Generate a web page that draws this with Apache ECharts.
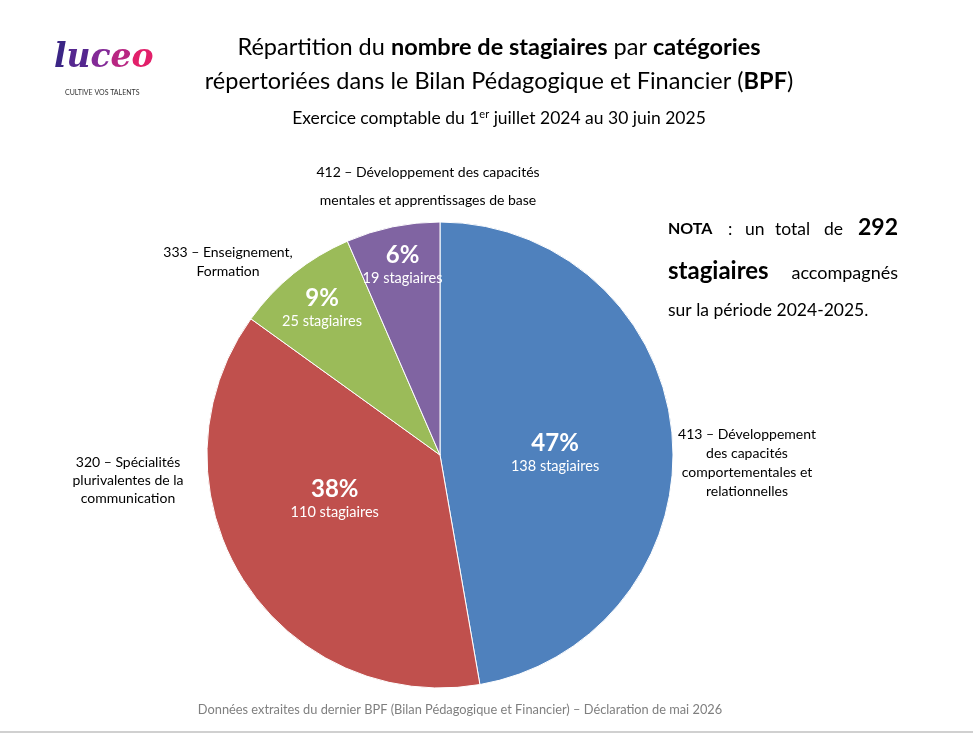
<!DOCTYPE html>
<html>
<head>
<meta charset="utf-8">
<script src="https://cdn.jsdelivr.net/npm/echarts@6/dist/echarts.min.js"></script>
<style>
  html, body { margin: 0; padding: 0; background: #fff; }
  #chart { width: 973px; height: 736px; }
</style>
</head>
<body>
<div id="chart"></div>
<script>
// données BPF
var codes = ['413', '320', '333', '412'];
var libelles = [
  'Développement\ndes capacités\ncomportementales et\nrelationnelles',
  'Spécialités\nplurivalentes de la\ncommunication',
  'Enseignement,\nFormation',
  'Développement des capacités\nmentales et apprentissages de base'
];
var stagiaires = [138, 110, 25, 19];
var couleurs = ['#4F81BD', '#C0504D', '#9BBB59', '#8064A2'];

var FONT = 'Lato';
var total = stagiaires.reduce(function (a, b) { return a + b; }, 0);

// pourcentages arrondis à 100 (plus forts restes), comme Excel
var pcts = (function () {
  var raw = stagiaires.map(function (v) { return v / total * 100; });
  var fl = raw.map(Math.floor);
  var reste = 100 - fl.reduce(function (a, b) { return a + b; }, 0);
  raw.map(function (r, i) { return i; })
    .sort(function (a, b) { return (raw[b] - fl[b]) - (raw[a] - fl[a]); })
    .slice(0, reste).forEach(function (i) { fl[i] += 1; });
  return fl;
})();

var myChart = echarts.init(document.getElementById('chart'));

var lblOffsets = [[-4, 8], [-4, -20], [4, 4], [2, 0]];
var pieData = codes.map(function (c, i) {
  return {
    name: c + ' – ' + libelles[i], value: stagiaires[i],
    itemStyle: { color: couleurs[i] },
    label: { offset: lblOffsets[i] }
  };
});

function labelFmt(p) {
  return '{pct|' + pcts[p.dataIndex] + '%}\n{nb|' + p.value + ' stagiaires}';
}
var richLbl = {
  pct: { color: '#fff', fontFamily: FONT, fontWeight: 'bold', fontSize: 24, lineHeight: 27 },
  nb: { color: '#fff', fontFamily: FONT, fontSize: 14.5, lineHeight: 18 }
};

function txt(s, x, y, size, bold, extra) {
  var st = { text: s, verticalAlign: 'middle', fontFamily: FONT, fontSize: size, fontWeight: bold ? 'bold' : 'normal', fill: '#000' };
  for (var k in extra) st[k] = extra[k];
  return { type: 'text', x: x, y: y, style: st };
}

var logoCol = { fontFamily: 'DejaVu Serif', fontStyle: 'italic', fontWeight: 'bold', fontSize: 33 };
function lc(c) { var o = { fill: c }; for (var k in logoCol) o[k] = logoCol[k]; return o; }

var option = {
  backgroundColor: '#fff',
  animation: false,
  series: [
    {
      // secteurs visibles, étiquettes des grosses parts
      type: 'pie',
      center: [440, 455],
      radius: [0, 233],
      startAngle: 90,
      clockwise: true,
      silent: true,
      itemStyle: { borderColor: '#fff', borderWidth: 1 },
      label: {
        show: true, position: 'inside', formatter: function (p) {
          return p.dataIndex < 2 ? labelFmt(p) : '';
        }, rich: richLbl
      },
      labelLine: { show: false },
      data: pieData
    },
    {
      // anneau transparent : étiquettes des petites parts, plus près du bord
      type: 'pie',
      center: [440, 455],
      radius: [150, 233],
      startAngle: 90,
      silent: true,
      itemStyle: { color: 'rgba(0,0,0,0)' },
      label: {
        show: true, position: 'inside', formatter: function (p) {
          return p.dataIndex >= 2 ? labelFmt(p) : '';
        }, rich: richLbl
      },
      labelLine: { show: false },
      data: pieData.map(function (d) { return { name: d.name, value: d.value, label: d.label }; })
    }
  ],
  graphic: [
    // logo
    {
      type: 'text', left: 54, top: 42,
      style: {
        text: '{a|l}{b|u}{c|c}{d|e}{e|o}', fontFamily: 'DejaVu Serif', fontSize: 33,
        rich: { a: lc('#3b2585'), b: lc('#55278f'), c: lc('#832a97'), d: lc('#b82682'), e: lc('#e2206a') }
      }
    },
    {
      type: 'text', left: 65, top: 89,
      style: { text: 'CULTIVE VOS TALENTS', fontFamily: FONT, fontSize: 7, fill: '#333' }
    },
    // titre
    {
      type: 'text', x: 499, y: 47,
      style: {
        text: 'Répartition du {b|nombre de stagiaires} par {b|catégories}',
        align: 'center', verticalAlign: 'middle', fontFamily: FONT, fontSize: 23.5, fill: '#000',
        rich: { b: { fontFamily: FONT, fontSize: 23.5, fontWeight: 'bold', fill: '#000' } }
      }
    },
    {
      type: 'text', x: 499, y: 81,
      style: {
        text: 'répertoriées dans le Bilan Pédagogique et Financier ({b|BPF})',
        align: 'center', verticalAlign: 'middle', fontFamily: FONT, fontSize: 23.5, fill: '#000',
        rich: { b: { fontFamily: FONT, fontSize: 23.5, fontWeight: 'bold', fill: '#000' } }
      }
    },
    {
      type: 'text', x: 499, y: 118,
      style: {
        text: 'Exercice comptable du 1{s|er} juillet 2024 au 30 juin 2025',
        align: 'center', verticalAlign: 'middle', fontFamily: FONT, fontSize: 17.5, fill: '#000',
        rich: { s: { fontFamily: FONT, fontSize: 11, fill: '#000', verticalAlign: 'top', padding: [0, 0, 8, 0] } }
      }
    },
    // libellés extérieurs
    txt(codes[3] + ' – ' + libelles[3], 428, 186, 14, false, { align: 'center', lineHeight: 28 }),
    txt(codes[2] + ' – ' + libelles[2], 228, 262, 14, false, { align: 'center', lineHeight: 19 }),
    txt(codes[1] + ' – ' + libelles[1], 128, 480, 14, false, { align: 'center', lineHeight: 18 }),
    txt(codes[0] + ' – ' + libelles[0], 747, 463, 14, false, { align: 'center', lineHeight: 18.7 }),
    // NOTA (texte justifié)
    txt('NOTA', 668, 229, 16, true),
    txt(':', 728, 229, 17.5, false),
    txt('un', 745, 229, 17.5, false),
    txt('total', 775, 229, 17.5, false),
    txt('de', 824, 229, 17.5, false),
    txt(String(total), 898, 228, 23, true, { align: 'right' }),
    txt('stagiaires', 668, 271, 24, true),
    txt('accompagnés', 898, 273, 18, false, { align: 'right' }),
    txt('sur la période 2024-2025.', 668, 310, 17.5, false),
    // source
    txt('Données extraites du dernier BPF (Bilan Pédagogique et Financier) – Déclaration de mai 2026',
      460, 710, 12.8, false, { align: 'center', fill: '#7f7f7f' }),
    {
      type: 'rect', shape: { x: 0, y: 731, width: 973, height: 2 },
      style: { fill: '#d0d0d0' }
    }
  ]
};

myChart.setOption(option);
window.addEventListener('resize', function () { myChart.resize(); });
</script>
</body>
</html>
